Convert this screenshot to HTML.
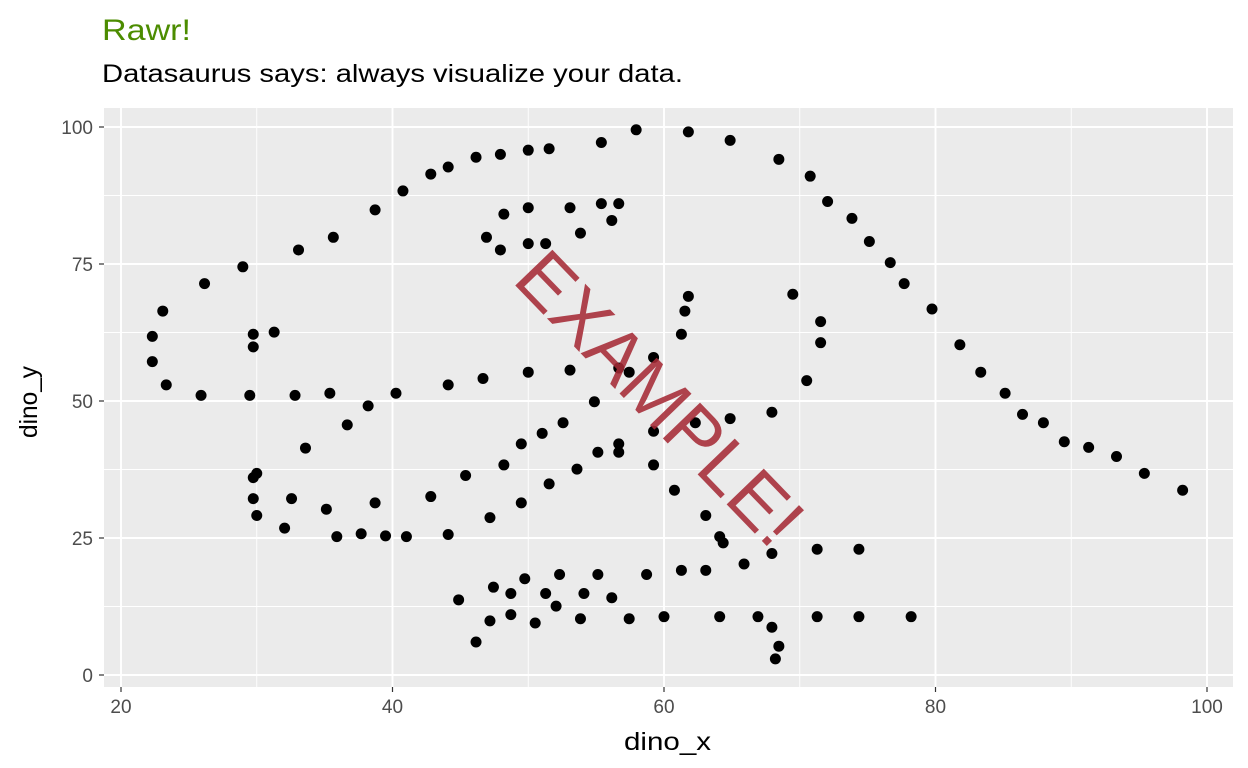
<!DOCTYPE html>
<html><head><meta charset="utf-8"><style>
html,body{margin:0;padding:0;background:#fff;}
svg{display:block;font-family:"Liberation Sans",Arial,sans-serif;}
</style></head><body>
<svg id="chart" width="1248" height="768">
<text x="102" y="40" font-size="30" fill="#4C8C00" textLength="89" lengthAdjust="spacingAndGlyphs">Rawr!</text>
<text x="102" y="82" font-size="25" fill="#000" textLength="581" lengthAdjust="spacingAndGlyphs">Datasaurus says: always visualize your data.</text>
<rect x="104" y="108" width="1129" height="579" fill="#EBEBEB"/>
<g id="grid"></g>
<g id="points"></g>
<g id="axes"></g>
<text x="660" y="398" font-size="75" fill="#A52A35" fill-opacity="0.88" text-anchor="middle" dominant-baseline="central" transform="rotate(46 660 398)">EXAMPLE!</text>
<text x="624" y="750" font-size="25" fill="#000" textLength="87" lengthAdjust="spacingAndGlyphs">dino_x</text>
<text x="0" y="0" font-size="25" fill="#000" textLength="72" lengthAdjust="spacingAndGlyphs" transform="translate(37 438) rotate(-90)">dino_y</text>
</svg>
<script>
const xTicks=[20,40,60,80,100];
const yTicks=[0,25,50,75,100];
const xMinor=[30,50,70,90];
const yMinor=[12.5,37.5,62.5,87.5];
const dinoX=[55.3846,51.5385,46.1538,42.8205,40.7692,38.7179,35.641,33.0769,28.9744,26.1538,23.0769,22.3077,22.3077,23.3333,25.8974,29.4872,32.8205,35.3846,40.2564,44.1026,46.6667,50.0,53.0769,56.6667,59.2308,61.2821,61.5385,61.7949,57.4359,54.8718,52.5641,48.2051,49.4872,51.0256,45.3846,42.8205,38.7179,35.1282,32.5641,30.0,33.5897,36.6667,38.2051,29.7436,29.7436,30.0,32.0513,35.8974,41.0256,44.1026,47.1795,49.4872,51.5385,53.5897,55.1282,56.6667,59.2308,62.3077,64.8718,67.9487,70.5128,71.5385,71.5385,69.4872,46.9231,48.2051,50.0,53.0769,55.3846,56.6667,56.1538,53.8462,51.2821,50.0,47.9487,29.7436,29.7436,31.2821,57.9487,61.7949,64.8718,68.4615,70.7692,72.0513,73.8462,75.1282,76.6667,77.6923,79.7436,81.7949,83.3333,85.1282,86.4103,87.9487,89.4872,93.3333,95.3846,98.2051,56.6667,59.2308,60.7692,63.0769,64.1026,64.359,74.359,71.2821,67.9487,65.8974,63.0769,61.2821,58.7179,55.1282,52.3077,49.7436,47.4359,44.8718,48.7179,51.2821,54.1026,56.1538,52.0513,48.7179,47.1795,46.1538,50.5128,53.8462,57.4359,60.0,64.1026,66.9231,71.2821,74.359,78.2051,67.9487,68.4615,68.2051,37.6923,39.4872,91.2821,50.0,47.9487,44.1026];
const dinoY=[97.1795,96.0256,94.4872,91.4103,88.3333,84.8718,79.8718,77.5641,74.4872,71.4103,66.4103,61.7949,57.1795,52.9487,51.0256,51.0256,51.0256,51.4103,51.4103,52.9487,54.1026,55.2564,55.641,56.0256,57.9487,62.1795,66.4103,69.1026,55.2564,49.8718,46.0256,38.3333,42.1795,44.1026,36.4103,32.5641,31.4103,30.2564,32.1795,36.7949,41.4103,45.641,49.1026,36.0256,32.1795,29.1026,26.7949,25.2564,25.2564,25.641,28.718,31.4103,34.8718,37.5641,40.641,42.1795,44.4872,46.0256,46.7949,47.9487,53.718,60.641,64.4872,69.4872,79.8718,84.1026,85.2564,85.2564,86.0256,86.0256,82.9487,80.641,78.718,78.718,77.5641,59.8718,62.1795,62.5641,99.4872,99.1026,97.5641,94.1026,91.0256,86.4103,83.3333,79.1026,75.2564,71.4103,66.7949,60.2564,55.2564,51.4103,47.5641,46.0256,42.5641,39.8718,36.7949,33.718,40.641,38.3333,33.718,29.1026,25.2564,24.1026,22.9487,22.9487,22.1795,20.2564,19.1026,19.1026,18.3333,18.3333,18.3333,17.5641,16.0256,13.7179,14.8718,14.8718,14.8718,14.1026,12.5641,11.0256,9.8718,6.0256,9.4872,10.2564,10.2564,10.641,10.641,10.641,10.641,10.641,10.641,8.718,5.2564,2.9487,25.7692,25.3846,41.5385,95.7692,95.0,92.6923];
const NS='http://www.w3.org/2000/svg';
const sx=v=>121+(v-20)*13.575;
const sy=v=>675-v*5.48;
function mk(tag,attrs,parent){const e=document.createElementNS(NS,tag);for(const k in attrs)e.setAttribute(k,attrs[k]);parent.appendChild(e);return e;}
const grid=document.getElementById('grid'),pts=document.getElementById('points'),axes=document.getElementById('axes');
xMinor.forEach(v=>{const l=mk('line',{x1:sx(v),x2:sx(v),y1:108,y2:687,stroke:'#fff','stroke-width':0.9},grid);

});
yMinor.forEach(v=>{const l=mk('line',{x1:104,x2:1233,y1:sy(v),y2:sy(v),stroke:'#fff','stroke-width':0.9},grid);

});
xTicks.forEach(v=>{const l=mk('line',{x1:sx(v),x2:sx(v),y1:108,y2:687,stroke:'#fff','stroke-width':1.9},grid);


const t=mk('line',{x1:sx(v),x2:sx(v),y1:687,y2:692,stroke:'#333','stroke-width':1.2},axes);


const tx=mk('text',{x:sx(v),y:713,'font-size':19,'text-anchor':'middle',fill:'#4D4D4D'},axes);tx.textContent=v;

});
yTicks.forEach(v=>{const l=mk('line',{x1:104,x2:1233,y1:sy(v),y2:sy(v),stroke:'#fff','stroke-width':1.9},grid);


const t=mk('line',{x1:99,x2:104,y1:sy(v),y2:sy(v),stroke:'#333','stroke-width':1.2},axes);


const tx=mk('text',{x:93,y:sy(v)+7,'font-size':19,'text-anchor':'end',fill:'#4D4D4D'},axes);tx.textContent=v;

});
dinoX.forEach((x,i)=>{const c=mk('circle',{cx:sx(x),cy:sy(dinoY[i]),r:5.5,fill:'#000'},pts);

});
</script>
</body></html>
